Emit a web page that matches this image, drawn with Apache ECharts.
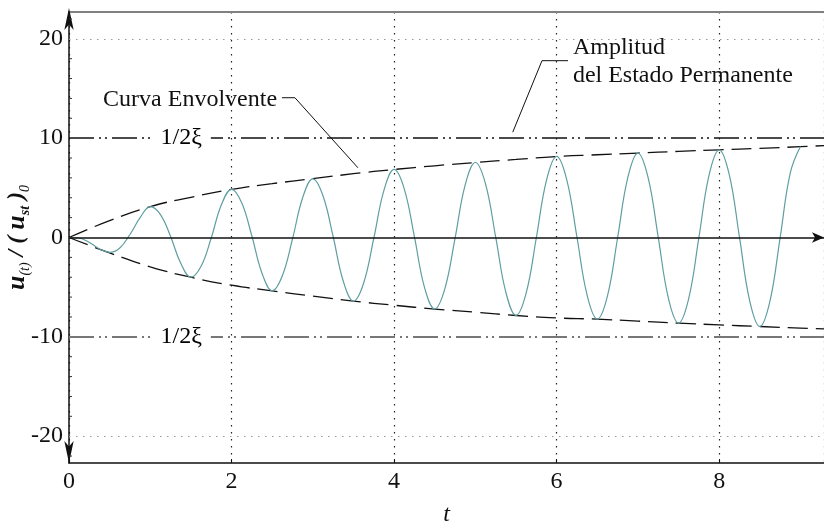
<!DOCTYPE html>
<html><head><meta charset="utf-8">
<script src="https://cdn.jsdelivr.net/npm/echarts@6/dist/echarts.min.js"></script>
<style>html,body{margin:0;padding:0;background:#fff}#c{width:824px;height:524px}</style>
</head><body><div id="c"></div>
<script>
// ---- data ----
const tValues = [0,0.125,0.25,0.375,0.5,0.625,0.75,0.875,
 1,1.125,1.25,1.375,1.5,1.625,1.75,1.875,
 2,2.125,2.25,2.375,2.5,2.625,2.75,2.875,
 3,3.125,3.25,3.375,3.5,3.625,3.75,3.875,
 4,4.125,4.25,4.375,4.5,4.625,4.75,4.875,
 5,5.125,5.25,5.375,5.5,5.625,5.75,5.875,
 6,6.125,6.25,6.375,6.5,6.625,6.75,6.875,
 7,7.125,7.25,7.375,7.5,7.625,7.75,7.875,
 8,8.125,8.25,8.375,8.5,8.625,8.75,8.875,9];
const response = [0,-0.05,-0.5,-1.15,-1.5,-1.05,0.3,2.0,
 3.1,2.3,0.1,-2.6,-4.0,-2.9,-0.05,3.3,
 4.85,3.5,0.15,-3.6,-5.37,-3.85,-0.15,4.0,
 5.9,4.2,0.1,-4.4,-6.4,-4.6,-0.1,4.75,
 6.85,4.9,0.08,-5.05,-7.2,-5.15,-0.08,5.3,
 7.55,5.4,0.06,-5.5,-7.85,-5.6,-0.05,5.75,
 8.16,5.8,0.05,-5.8,-8.22,-5.9,-0.05,6.0,
 8.5,6.05,0.04,-6.1,-8.62,-6.15,-0.04,6.25,
 8.83,6.3,0.03,-6.35,-8.96,-6.4,-0.03,6.5,9.16];
const envT = [0,0.5,1,1.5,2,2.5,3,3.5,4,4.5,5,5.5,6,6.5,7,7.5,8,8.5,9,9.29];
const envUpper = [0,1.7,3.1,4.05,4.85,5.42,5.92,6.42,6.85,7.22,7.55,7.86,8.15,8.33,8.5,8.67,8.83,8.98,9.14,9.25];
const envLower = [0,-1.55,-2.95,-4.0,-4.8,-5.37,-5.9,-6.4,-6.82,-7.2,-7.52,-7.85,-8.1,-8.22,-8.42,-8.62,-8.8,-8.96,-9.12,-9.2];
const steadyAmp = 10;
const xTicks = [0,2,4,6,8];
const yTicks = [-20,-10,0,10,20];
const yGridLines = [-20,20];
const yMinorTicks = [-22,-18,-16,-14,-12,-8,-6,-4,-2,2,4,6,8,12,14,16,18,22];

const serif = 'Liberation Serif';
const chart = echarts.init(document.getElementById('c'), null, {renderer:'canvas'});
const zip = (a,b)=>a.map((v,i)=>[v,b[i]]);
const X_MAX = 9.29, Y_MAX = 22.7;

const option = {
  animation:false,
  backgroundColor:'#fff',
  grid:{left:69,right:0,top:12,bottom:61,containLabel:false,outerBoundsMode:'none'},
  xAxis:[{
    type:'value',min:0,max:X_MAX,interval:2,position:'bottom',
    axisLine:{onZero:false,lineStyle:{color:'#111',width:1.5}},
    axisTick:{inside:true,length:4,lineStyle:{color:'#111'}},
    axisLabel:{fontFamily:serif,fontSize:24,color:'#111',margin:7,
      formatter:v=>xTicks.includes(v)?String(v):''},
    splitLine:{show:true,lineStyle:{color:'#222',type:[1.5,5.5],width:1.2}},
    name:'t',nameLocation:'middle',nameGap:40,nameMoveOverlap:false,
    nameTextStyle:{fontFamily:serif,fontSize:24,fontStyle:'italic',color:'#111'}
  },{
    type:'value',min:0,max:X_MAX,position:'top',
    axisLine:{show:true,onZero:false,lineStyle:{color:'#808080',width:2}},
    axisTick:{show:false},axisLabel:{show:false},splitLine:{show:false}
  }],
  yAxis:[{
    type:'value',min:-Y_MAX,max:Y_MAX,
    axisLine:{onZero:false,symbol:['arrow','arrow'],symbolSize:[7,22],symbolOffset:[0,4],
      lineStyle:{color:'#111',width:1.5}},
    axisTick:{show:false},
    minorTick:{show:false},
    axisLabel:{fontFamily:serif,fontSize:24,color:'#111',margin:6,customValues:yTicks,
      formatter:v=>String(v)},
    splitLine:{show:false},
    name:'{u|u}{s|(t)}{n| / ( }{u|u}{ss|st}{n| )}{s|0}',
    nameLocation:'middle',nameRotate:90,nameGap:37,nameMoveOverlap:false,
    nameTextStyle:{
      rich:{
        u:{fontFamily:serif,fontSize:26,fontWeight:'bold',fontStyle:'italic',color:'#111',lineHeight:30},
        n:{fontFamily:serif,fontSize:24,fontWeight:'bold',fontStyle:'italic',color:'#111',lineHeight:30},
        s:{fontFamily:serif,fontSize:14,fontStyle:'italic',color:'#111',lineHeight:14,verticalAlign:'bottom'},
        ss:{fontFamily:serif,fontSize:14,fontWeight:'bold',fontStyle:'italic',color:'#111',lineHeight:14,verticalAlign:'bottom'}
      }
    }
  }],
  series:[
    {type:'line',name:'response',data:zip(tValues,response),smooth:0.4,showSymbol:false,
     lineStyle:{color:'#5f9ea0',width:1.2},z:3,
     markLine:{silent:true,symbol:['none','none'],label:{show:false},
       data:[
         {yAxis:steadyAmp,lineStyle:{color:'#111',width:1.5,type:[25,5,2,4,2,5]}},
         {yAxis:-steadyAmp,lineStyle:{color:'#777',width:2,type:[25,5,2,4,2,5]}}
       ].concat(yGridLines.map(v=>({yAxis:v,lineStyle:{color:'#999',width:1.2,type:[1.5,5.5]}})))}},
    {type:'line',name:'envUp',data:zip(envT,envUpper),smooth:true,showSymbol:false,
     lineStyle:{color:'#111',width:1.3,type:[20,8]},z:2},
    {type:'line',name:'envLow',data:zip(envT,envLower),smooth:true,showSymbol:false,
     lineStyle:{color:'#111',width:1.3,type:[20,8]},z:2,
     markLine:{silent:true,symbol:['none','arrow'],symbolSize:[8,12],label:{show:false},
       data:[{yAxis:0,lineStyle:{color:'#111',width:1.5,type:'solid'}}]}},
    {type:'scatter',name:'labels',data:[[1.38,steadyAmp],[1.38,-steadyAmp]],symbolSize:0,z:5,
     itemStyle:{opacity:1},
     label:{show:true,position:'inside',formatter:'1/2ξ',fontFamily:serif,fontSize:24,color:'#000',
       backgroundColor:'#fff',padding:[2,9,0,9]}}
  ]
};
chart.setOption(option);

const p = (x,y)=>chart.convertToPixel({seriesIndex:0},[x,y]);
const curvaLeader = [[2.62,14.07],[2.78,14.07],[3.555,7.02]];
const ampLeader = [[6.14,17.8],[5.82,17.8],[5.46,10.6]];
const curvaPos = p(2.56,13.9);
const ampPos = p(6.2,17.65);
const minorTickMarks = yMinorTicks.map(v=>{const a=p(0,v);return {type:'line',shape:{x1:a[0],y1:a[1],x2:a[0]+3,y2:a[1]},style:{stroke:'#333',lineWidth:1},z:10};});
chart.setOption({graphic:[
  {type:'polyline',shape:{points:curvaLeader.map(q=>p(q[0],q[1]))},style:{stroke:'#111',lineWidth:1,fill:null},z:10},
  {type:'polyline',shape:{points:ampLeader.map(q=>p(q[0],q[1]))},style:{stroke:'#111',lineWidth:1,fill:null},z:10},
  {type:'text',x:curvaPos[0],y:curvaPos[1],style:{text:'Curva Envolvente',font:'24px "Liberation Serif"',fill:'#111',align:'right',verticalAlign:'middle'},z:10},
  {type:'text',x:ampPos[0],y:ampPos[1],style:{text:'Amplitud\ndel Estado Permanente',font:'24px "Liberation Serif"',fill:'#111',align:'left',verticalAlign:'middle',lineHeight:28},z:10}
].concat(minorTickMarks)});
</script></body></html>
